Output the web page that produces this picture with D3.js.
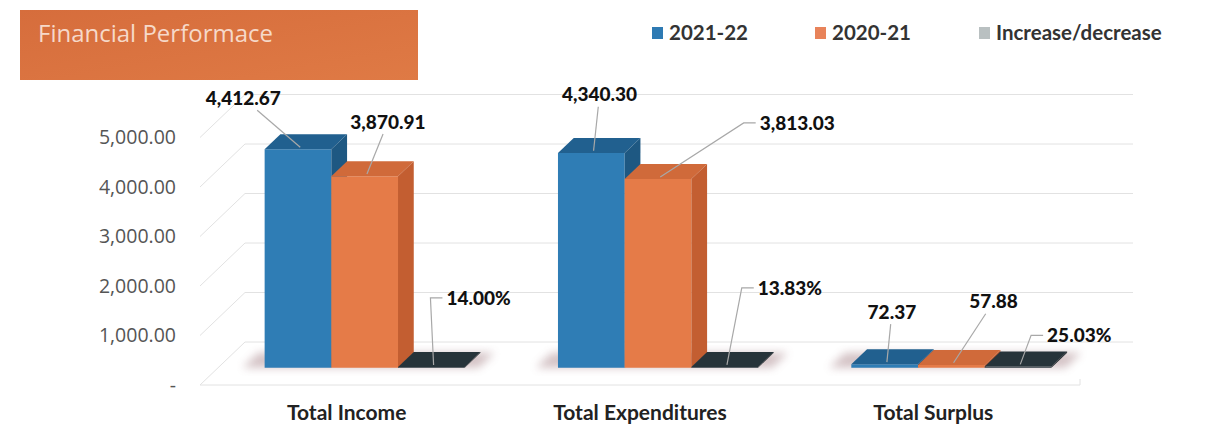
<!DOCTYPE html>
<html>
<head>
<meta charset="utf-8">
<script src="https://cdn.jsdelivr.net/npm/d3@7"></script>
<style>
  body { margin: 0; background: #fff; }
  svg { display: block; }
  .tick-label { font-family: "Open Sans", sans-serif; font-size: 19.5px; fill: #555; }
  .data-label { font-family: Lato, "Open Sans", sans-serif; font-weight: 900; font-size: 19px; fill: #111; }
  .cat-label { font-family: Lato, "Open Sans", sans-serif; font-weight: 700; font-size: 21px; fill: #222; }
  .legend-label { font-family: Lato, "Open Sans", sans-serif; font-weight: 700; font-size: 20.5px; fill: #333; }
</style>
</head>
<body>
<div id="chart"></div>
<script>
// chart data
const categories = ["Total Income", "Total Expenditures", "Total Surplus"]
const seriesNames = ["2021-22", "2020-21", "Increase/decrease"]
const values2122 = [4412.67, 4340.30, 72.37]
const values2021 = [3870.91, 3813.03, 57.88]
const changePct = [14.00, 13.83, 25.03]
const yTicks = [0, 1000, 2000, 3000, 4000, 5000]

const width = 1227, height = 443

// face colours: front, top, side
const faceColors = [
  ["#2f7db5", "#21608f", "#1e5882"],
  ["#e57b48", "#d06a3a", "#c35e31"],
  ["#2c3a40", "#27343a", "#1f282c"]
]
const legendColors = ["#2e7ab3", "#e8835a", "#b9c0c1"]

// label placement relative to each bar top (dx, dy, leader type)
const labelLayout = [
  [[-57, -49, "line"], [21, -52, "line"], [45, -67, "elbow"]],
  [[6, -56, "line"], [137, -54, "elbow"], [63, -77, "elbow"]],
  [[5, -50, "line"], [40, -61, "line"], [59, -29, "elbow"]]
]

// 3d depth offsets
const DX = 45, DY = -43
const zFront = 0.4, zBack = 0.75

const svg = d3.select("#chart").append("svg")
  .attr("width", width).attr("height", height)

const defs = svg.append("defs")
const grad = defs.append("linearGradient").attr("id", "banner").attr("x1", 0).attr("x2", 1).attr("y1", 0).attr("y2", 1)
grad.append("stop").attr("offset", "0%").attr("stop-color", "#d66d3c")
grad.append("stop").attr("offset", "100%").attr("stop-color", "#df7a45")
defs.append("filter").attr("id", "blur").attr("x", "-20%").attr("y", "-50%").attr("width", "140%").attr("height", "200%")
  .append("feGaussianBlur").attr("stdDeviation", 4)

// title banner
svg.append("rect").attr("x", 20).attr("y", 10).attr("width", 398).attr("height", 70).attr("fill", "url(#banner)")
svg.append("text").attr("x", 38).attr("y", 42)
  .style("font-family", "'Open Sans', sans-serif").style("font-size", "24px").attr("fill", "#f6d9c9")
  .text("Financial Performace")

// scales
const x = d3.scaleBand().domain(categories).range([200, 1080]).paddingInner(0.318).paddingOuter(0.159)
const xs = d3.scaleBand().domain(d3.range(3)).range([0, x.bandwidth()])
const y = d3.scaleLinear().domain([0, 5000]).range([385, 137.5])

const proj = (px, v, z) => [px + z * DX, y(v) + z * DY]

// walls and gridlines
const grid = svg.append("g").attr("stroke", "#e2e2e2").attr("fill", "none")
yTicks.forEach(t => {
  const a = proj(200, t, 0), b = proj(200, t, 1), c = proj(1088, t, 1)
  grid.append("path").attr("d", d3.line()([a, b, c]))
})
grid.append("path").attr("d", d3.line()([[200, y(0)], [1080, y(0)], [1080, y(0) - 6]]))

// y axis labels
const fmt = d3.format(",.2f")
svg.append("g").selectAll("text").data(yTicks).join("text")
  .attr("class", "tick-label")
  .attr("x", 176).attr("y", d => y(d)).attr("dy", "0.35em").attr("text-anchor", "end")
  .text(d => d === 0 ? "-" : fmt(d))

// series table
const seriesVals = [values2122, values2021, changePct]

const groups = svg.append("g").selectAll("g").data(categories).join("g")

groups.each(function (cat, ci) {
  const g = d3.select(this)
  const x0 = x(cat)
  // soft shadow on floor
  const s0 = proj(x0 - 22, 0, zFront), s1 = proj(x0 + x.bandwidth() + 14, 0, zFront)
  const s2 = proj(x0 + x.bandwidth() + 14, 0, zBack), s3 = proj(x0 - 22, 0, zBack)
  g.append("path").attr("d", d3.line()([s0, s1, s2, s3]) + "Z")
    .attr("fill", "#a07a80").attr("opacity", 0.45).attr("filter", "url(#blur)")

  seriesVals.forEach((vals, si) => {
    const v = vals[ci]
    const xl = x0 + xs(si), xr = xl + xs.bandwidth()
    const col = faceColors[si]
    const fbl = proj(xl, 0, zFront), fbr = proj(xr, 0, zFront)
    const ftl = proj(xl, v, zFront), ftr = proj(xr, v, zFront)
    const btl = proj(xl, v, zBack), btr = proj(xr, v, zBack), bbr = proj(xr, 0, zBack)
    g.append("path").attr("d", d3.line()([fbl, fbr, ftr, ftl]) + "Z").attr("fill", col[0])
    g.append("path").attr("d", d3.line()([ftl, ftr, btr, btl]) + "Z").attr("fill", col[1])
    g.append("path").attr("d", d3.line()([fbr, bbr, btr, ftr]) + "Z").attr("fill", col[2])
  })
})

// data labels with leader lines
const labels = svg.append("g")
categories.forEach((cat, ci) => {
  seriesVals.forEach((vals, si) => {
    const v = vals[ci]
    const cx = x(cat) + xs(si) + xs.bandwidth() / 2
    const anchor = proj(cx, v, 0.45)
    const [ox, oy, kind] = labelLayout[ci][si]
    const lx = anchor[0] + ox, ly = anchor[1] + oy
    const txt = si === 2 ? d3.format(".2f")(v) + "%" : fmt(v)
    const t = labels.append("text").attr("class", "data-label")
      .attr("x", lx).attr("y", ly).attr("dy", "0.35em")
      .attr("text-anchor", "middle").text(txt)
    const w = t.node().getComputedTextLength()
    let pts
    if (kind === "elbow") {
      const left = lx - w / 2 - 4
      pts = [[left, ly], [left - 12, ly], anchor]
    } else {
      const k = 12 / (anchor[1] - ly)
      pts = [[lx + (anchor[0] - lx) * k, ly + 12], anchor]
    }
    labels.insert("path", "text").attr("d", d3.line()(pts))
      .attr("fill", "none").attr("stroke", "#a8a8a8").attr("stroke-width", 1.2)
  })
})

// category labels
svg.append("g").selectAll("text").data(categories).join("text")
  .attr("class", "cat-label")
  .attr("x", d => x(d) + x.bandwidth() / 2).attr("y", 420).attr("text-anchor", "middle")
  .text(d => d)

// legend
const legendX = [652, 815, 979]
const legend = svg.append("g").selectAll("g").data(seriesNames).join("g")
  .attr("transform", (d, i) => `translate(${legendX[i]},27)`)
legend.append("rect").attr("width", 11).attr("height", 12).attr("fill", (d, i) => legendColors[i])
legend.append("text").attr("class", "legend-label").attr("x", 17).attr("y", 6).attr("dy", "0.35em").text(d => d)
</script>
</body>
</html>
